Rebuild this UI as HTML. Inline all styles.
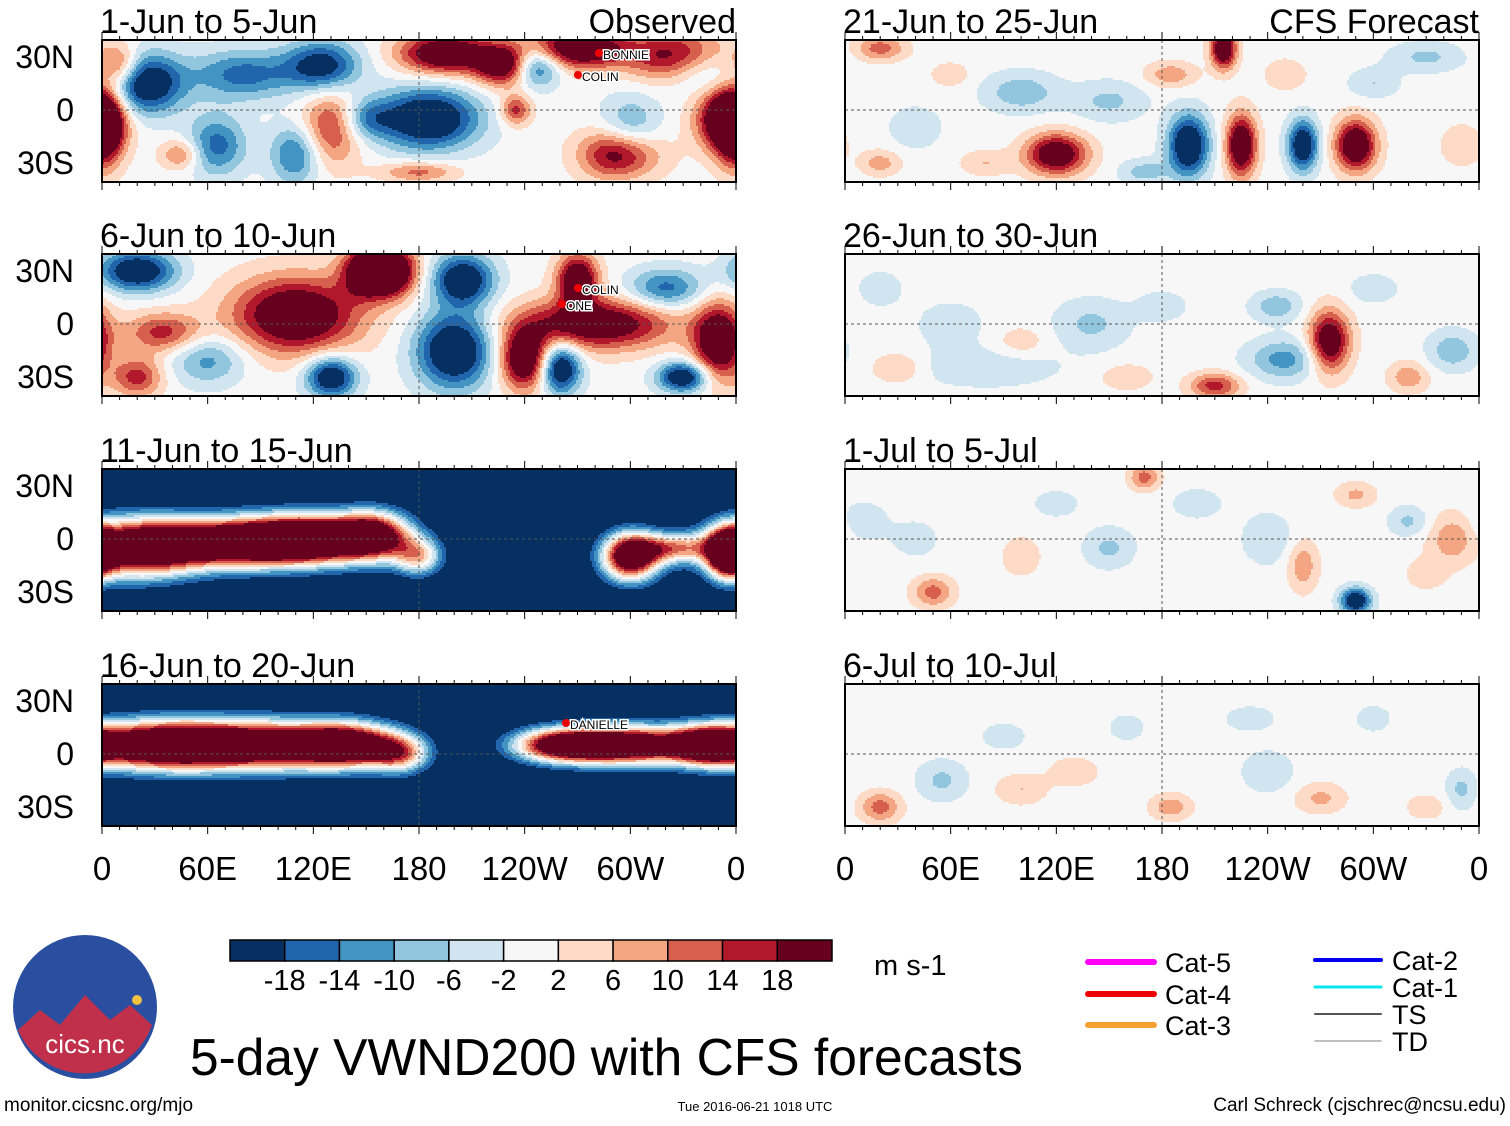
<!DOCTYPE html>
<html><head><meta charset="utf-8"><style>
body{margin:0;background:#fff;font-family:"Liberation Sans",sans-serif}
</style></head><body>
<svg id="chart" width="1510" height="1121" xmlns="http://www.w3.org/2000/svg" font-family="Liberation Sans, sans-serif"></svg>
<script>
// ----- data -----
const panelTitles = ["1-Jun to 5-Jun","6-Jun to 10-Jun","11-Jun to 15-Jun","16-Jun to 20-Jun","21-Jun to 25-Jun","26-Jun to 30-Jun","1-Jul to 5-Jul","6-Jul to 10-Jul"];
const panelBackground = [0,0,-28,-28,0,0,0,0];
// anomaly blobs: [lon, lat, amplitude (m/s), lonRadiusDeg, latRadiusDeg]
const blobsP1 = [[25,15,-26,15,12],[80,20,-16,20,10],[65,-20,-16,12,12],[110,-25,-16,10,12],[125,25,-22,15,10],[195,32,28,18,8],[185,-5,-28,20,12],[245,25,-26,10,8],[300,-15,-14,12,15],[340,25,-16,15,10],[150,-5,-12,10,8],[0,-10,28,8,15],[10,25,16,8,8],[45,-25,12,8,6],[130,-10,16,12,15],[230,25,28,12,8],[270,35,28,20,8],[330,30,26,20,10],[235,0,16,6,6],[295,-25,28,15,10],[355,-5,28,12,12],[180,-35,12,15,4]];
const blobsP2 = [[35,-5,16,15,8],[110,5,28,25,15],[150,30,26,10,10],[165,30,28,10,10],[270,25,28,8,10],[280,0,26,30,10],[240,-20,28,10,12],[350,-10,28,10,15],[20,-30,16,10,8],[20,30,-26,15,8],[130,-30,-26,10,8],[200,-15,-28,15,15],[260,-25,-28,8,10],[205,25,-26,12,10],[320,20,-16,15,8],[60,-20,-12,15,10],[330,-30,-26,10,6]];
const blobsP3 = [[20,-5,58,25,12],[75,-2,58,30,10],[120,0,58,25,10],[155,2,45,15,10],[180,-10,30,10,8],[300,-10,58,12,10],[355,-8,50,8,10],[325,-5,30,15,6]];
const blobsP4 = [[30,5,58,30,10],[90,5,58,35,10],[140,5,50,20,9],[170,0,30,12,8],[260,5,50,20,7],[300,5,58,25,8],[345,5,50,15,8]];
const blobsP5 = [[120,-25,26,12,8],[225,-20,28,6,12],[215,35,28,5,8],[290,-20,28,8,10],[20,35,12,10,5],[185,20,9,10,5],[195,-20,-28,8,12],[260,-20,-26,6,10],[100,10,-9,15,8],[330,30,-7,15,6],[150,5,-7,15,8],[40,-10,-6,10,8],[60,20,5,8,5],[80,-30,6,10,5],[250,20,6,8,6],[300,15,-6,10,6],[350,-20,6,8,8],[20,-30,8,8,5],[170,-35,-8,10,5]];
const blobsP6 = [[275,-10,26,8,12],[210,-35,16,10,5],[30,-25,7,10,6],[320,-30,9,8,6],[250,-20,-12,15,8],[245,10,-9,10,6],[140,0,-7,15,10],[345,-15,-9,10,8],[80,-25,-5,30,8],[100,-10,5,10,6],[180,10,-5,10,6],[300,20,-5,10,6],[60,0,-4,15,10],[160,-30,6,10,5],[20,20,-4,10,8]];
const blobsP7 = [[50,-30,12,8,6],[170,35,12,6,5],[260,-15,9,6,10],[345,0,9,10,10],[290,25,7,8,5],[290,-35,-26,6,5],[320,10,-7,8,6],[150,-5,-7,10,8],[240,0,-6,10,10],[10,10,-5,10,8],[100,-10,5,8,8],[200,20,-5,10,6],[40,0,-4,10,8],[330,-20,5,8,6],[120,20,-4,10,6]];
const blobsP8 = [[20,-30,12,8,6],[185,-30,9,8,5],[100,-20,6,10,6],[270,-25,7,10,6],[55,-15,-7,10,8],[240,-10,-6,10,8],[350,-20,-7,6,8],[230,20,-5,10,5],[130,-10,5,10,6],[300,20,-4,8,6],[160,15,-4,8,6],[330,-30,5,8,5],[90,10,-4,10,6]];
const panelBlobs = [blobsP1,blobsP2,blobsP3,blobsP4,blobsP5,blobsP6,blobsP7,blobsP8];
const levelBounds = [-18,-14,-10,-6,-2,2,6,10,14,18];
const binColors = ["#053061","#2166ac","#4393c3","#92c5de","#d1e5f0","#f7f7f7","#fddbc7","#f4a582","#d6604d","#b2182b","#67001f"];
const lonTicks = ["0","60E","120E","180","120W","60W","0"];
const latTicks = ["30N","0","30S"];
const latTickValues = [30,0,-30];
const colorbarLabels = ["-18","-14","-10","-6","-2","2","6","10","14","18"];

const NS="http://www.w3.org/2000/svg";
const svg=document.getElementById('chart');
function mk(t,a,p){const e=document.createElementNS(NS,t);for(const k in a)e.setAttribute(k,a[k]);(p||svg).appendChild(e);return e;}
function binIndex(v){let i=0;while(i<levelBounds.length&&v>levelBounds[i])i++;return i;}
const colX=[102,845], rowY=[40,254,469,684], PW=634, PH=142, CELL=2;

panelTitles.forEach((title,pi)=>{
  const col=pi<4?0:1,row=pi%4,x0=colX[col],y0=rowY[row];
  const xs=lon=>x0+lon/360*PW, ys=lat=>y0+70-lat*53/30;
  const lonOf=x=>(x-x0)/PW*360, latOf=y=>(y0+70-y)*30/53;
  const g=mk('g',{});
  
  
  const field=mk('g',{'shape-rendering':'crispEdges'},g);
  
  
  const bg=panelBackground[pi], blobs=panelBlobs[pi];
  function val(lon,lat){let v=bg;for(const b of blobs){let dx=lon-b[0];dx=((dx+540)%360)-180;const dy=lat-b[1];
    v+=b[2]*Math.exp(-0.5*(dx*dx/(b[3]*b[3])+dy*dy/(b[4]*b[4])));}return v;}
  for(let y=y0;y<y0+PH;y+=CELL){
    const la=latOf(y+CELL/2);let runStart=x0,runBin=-1;
    for(let x=x0;x<=x0+PW;x+=CELL){
      const bi=x<x0+PW?binIndex(val(lonOf(x+CELL/2),la)):-2;
      if(bi!==runBin){
        if(runBin>=0){mk('rect',{x:runStart,y:y,width:x-runStart,height:CELL,fill:binColors[runBin]},field);}
        runStart=x;runBin=bi;}
    }
  }
  mk('line',{x1:x0,x2:x0+PW,y1:ys(0),y2:ys(0),stroke:'#555','stroke-dasharray':'3,3','stroke-width':1},g);
  mk('line',{x1:xs(180),x2:xs(180),y1:y0,y2:y0+PH,stroke:'#555','stroke-dasharray':'3,3','stroke-width':1},g);
  mk('rect',{x:x0,y:y0,width:PW,height:PH,fill:'none',stroke:'#000','stroke-width':2},g);
  for(let l=0;l<=360;l+=10){const len=l%60==0?8:4;
    mk('line',{x1:xs(l),x2:xs(l),y1:y0,y2:y0-len,stroke:'#000'},g);
    mk('line',{x1:xs(l),x2:xs(l),y1:y0+PH,y2:y0+PH+len,stroke:'#000'},g);}
  const t=mk('text',{x:x0-2,y:y0-7,'font-size':34},g);t.textContent=title;
  
  if(row==0){const h=mk('text',{x:x0+PW,y:y0-7,'font-size':34,'text-anchor':'end'},g);h.textContent=col==0?"Observed":"CFS Forecast";
    }
  if(col==0){latTicks.forEach((lt,i)=>{const e=mk('text',{x:74,y:ys(latTickValues[i])+11,'font-size':32,'text-anchor':'end'},g);e.textContent=lt;
    });}
  if(row==3){lonTicks.forEach((lt,i)=>{const e=mk('text',{x:xs(i*60),y:880,'font-size':33,'text-anchor':'middle'},g);e.textContent=lt;
    });}
});
// storm labels
[["BONNIE",603,59],["COLIN",582,81],["COLIN",582,294],["ONE",566,310],["DANIELLE",570,729]].forEach(s=>{
  const e=mk('text',{x:s[1],y:s[2],'font-size':12,fill:'#000',stroke:'#fff','stroke-width':3,'paint-order':'stroke'});e.textContent=s[0];
  
  mk('circle',{cx:s[1]-4,cy:s[2]-6,r:4,fill:'#e00'});
});
// colorbar
const cb=mk('g',{});
const cw=602/11;
binColors.forEach((c,i)=>mk('rect',{x:230+i*cw,y:940,width:cw,height:21,fill:c,stroke:'#000','stroke-width':1.5},cb));
colorbarLabels.forEach((l,i)=>{const e=mk('text',{x:230+(i+1)*cw,y:990,'font-size':29,'text-anchor':'middle'},cb);e.textContent=l;});
const u=mk('text',{x:874,y:975,'font-size':29});u.textContent="m s-1";
// title
const tt=mk('text',{x:190,y:1075,'font-size':51.5});tt.textContent="5-day VWND200 with CFS forecasts";

// legend
const lg=mk('g',{});
[["Cat-5","#ff00ff",6,1088,962],["Cat-4","#ee0000",6,1088,994],["Cat-3","#f5a030",6,1088,1025],["Cat-2","#0000ee",4,1315,960],["Cat-1","#00e5ee",3,1315,987],["TS","#555",2,1315,1014],["TD","#aaa",1.5,1315,1041]].forEach(e=>{
  mk('line',{x1:e[3],x2:e[3]+66,y1:e[4],y2:e[4],stroke:e[1],'stroke-width':e[2],'stroke-linecap':'round'},lg);
  const t=mk('text',{x:e[3]+77,y:e[4]+10,'font-size':27},lg);t.textContent=e[0];
});
// logo
const lo=mk('g',{});
mk('circle',{cx:85,cy:1007,r:72,fill:'#2a4fa0'},lo);
mk('path',{d:'M18,1030 L40,1010 L60,1025 L85,995 L110,1020 L130,1005 L152,1025 A72,72 0 0 1 18,1030Z',fill:'#c0304a'},lo);
mk('circle',{cx:137,cy:1000,r:5,fill:'#f0c040'},lo);
const lt=mk('text',{x:85,y:1053,'font-size':26,fill:'#fff','text-anchor':'middle'},lo);lt.textContent="cics.nc";
// footer
[["monitor.cicsnc.org/mjo",4,1111,19,'start'],["Tue 2016-06-21 1018 UTC",755,1111,13,'middle'],["Carl Schreck (cjschrec@ncsu.edu)",1506,1111,19,'end']].forEach(f=>{
  const e=mk('text',{x:f[1],y:f[2],'font-size':f[3],'text-anchor':f[4]});e.textContent=f[0];
  
});
</script>
</body></html>
